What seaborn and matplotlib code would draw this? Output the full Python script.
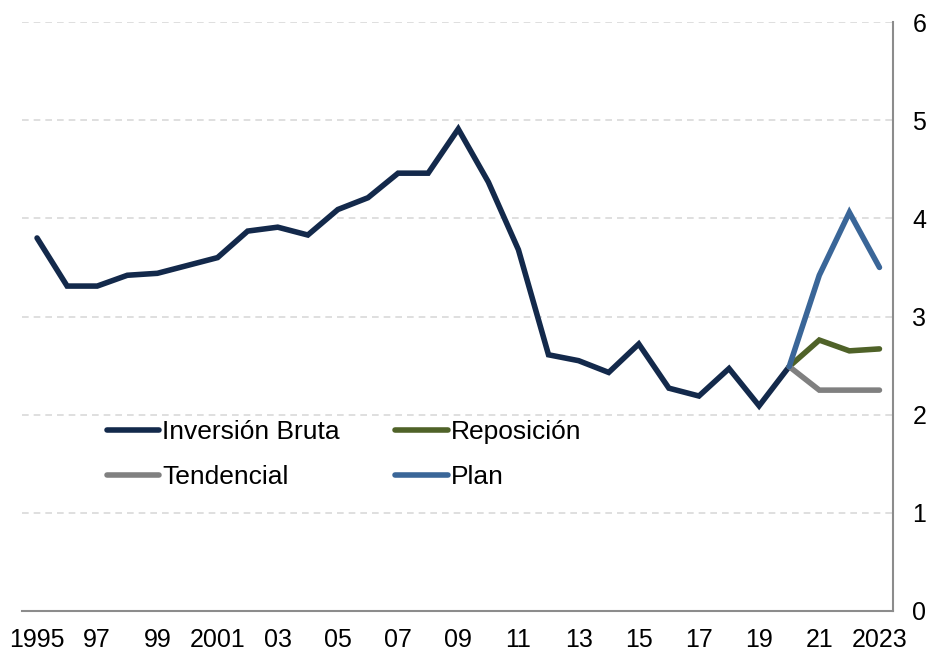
import numpy as np
import pandas as pd
import matplotlib
matplotlib.use("Agg")
import matplotlib.pyplot as plt
import seaborn as sns

years_hist = list(range(1995, 2021))
inversion_bruta = [3.80, 3.31, 3.31, 3.42, 3.44, 3.52, 3.60, 3.87, 3.91, 3.83,
                   4.09, 4.21, 4.46, 4.46, 4.91, 4.37, 3.68, 2.61, 2.55, 2.43,
                   2.72, 2.27, 2.19, 2.47, 2.09, 2.49]
years_proj = [2020, 2021, 2022, 2023]
reposicion = [2.49, 2.76, 2.65, 2.67]
tendencial = [2.49, 2.25, 2.25, 2.25]
plan = [2.49, 3.42, 4.06, 3.50]

tick_years = list(range(1995, 2024, 2))
tick_labels = ["1995", "97", "99", "2001", "03", "05", "07", "09", "11", "13",
               "15", "17", "19", "21", "2023"]

series_names = ["Inversión Bruta", "Reposición", "Tendencial", "Plan"]
colors = {"Inversión Bruta": "#13294B", "Reposición": "#4F6228",
          "Tendencial": "#808080", "Plan": "#3A6698"}

df = pd.concat([
    pd.DataFrame({"year": years_hist, "value": inversion_bruta, "serie": "Inversión Bruta"}),
    pd.DataFrame({"year": years_proj, "value": reposicion, "serie": "Reposición"}),
    pd.DataFrame({"year": years_proj, "value": tendencial, "serie": "Tendencial"}),
    pd.DataFrame({"year": years_proj, "value": plan, "serie": "Plan"}),
])

sns.set_theme(style="white")
plt.rcParams["font.family"] = ["Liberation Sans", "DejaVu Sans"]

fig = plt.figure(figsize=(9.32, 6.55), dpi=100)
ax = fig.add_axes([22/932, 44/655, (893-22)/932, (611-22)/655])

sns.lineplot(data=df, x="year", y="value", hue="serie", hue_order=series_names,
             palette=colors, linewidth=4, ax=ax, legend=False,
             solid_capstyle="round", solid_joinstyle="miter")

ax.set_xlim(1994.5, 2023.45)
ax.set_ylim(0, 6)
ax.set_xticks(tick_years)
ax.set_xticklabels(tick_labels, fontsize=18)
ax.yaxis.tick_right()
ax.set_yticks(range(0, 7))
ax.set_yticklabels([str(i) for i in range(0, 7)], fontsize=18)
ax.tick_params(axis="both", length=0, colors="black")
ax.tick_params(axis="x", pad=12)
ax.tick_params(axis="y", pad=14)
ax.set_xlabel("")
ax.set_ylabel("")

for v in range(1, 7):
    ax.axhline(v, color="#D9D9D9", linestyle=(0, (4, 3)), linewidth=1.2, zorder=0)

for s in ["top", "left"]:
    ax.spines[s].set_visible(False)
for s in ["bottom", "right"]:
    ax.spines[s].set_color("#8C8C8C")
    ax.spines[s].set_linewidth(1.5)

from matplotlib.lines import Line2D
handles = [Line2D([0], [0], color=colors[n], linewidth=4, solid_capstyle="round") for n in series_names]
order = [0, 2, 1, 3]
leg = ax.legend([handles[i] for i in order], [series_names[i] for i in order],
          ncol=2, loc="upper left", bbox_to_anchor=(0.085, 0.342), frameon=False,
          fontsize=19, handlelength=2.0, handletextpad=0.1, columnspacing=2.1,
          labelspacing=0.8, borderaxespad=0)
for t in leg.get_texts():
    t.set_color("black")

fig.savefig("out.png", dpi=100)
